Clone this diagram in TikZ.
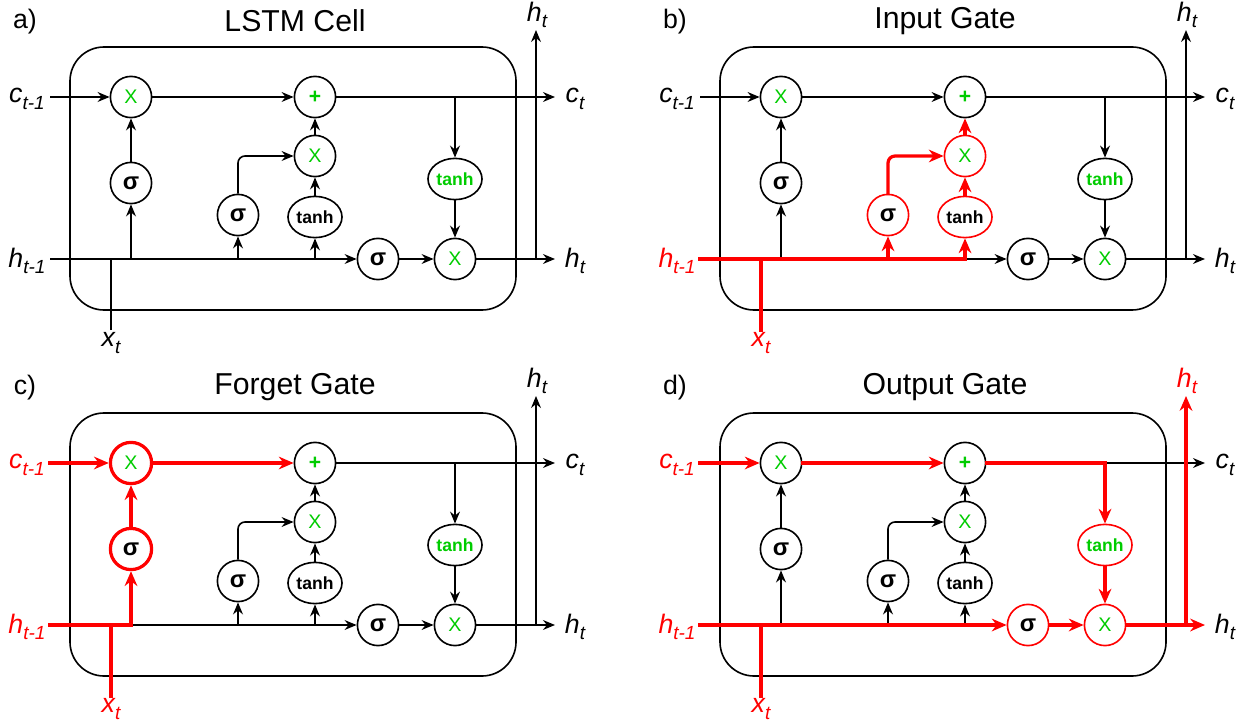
\documentclass[tikz,border=0pt]{standalone}
\usepackage{fontspec}
\setmainfont{Liberation Sans}
\usetikzlibrary{arrows.meta,shapes.geometric}

\definecolor{opgreen}{RGB}{0,204,0}

\newcommand{\lowidx}[1]{\raisebox{-0.45ex}{\fontsize{13.5}{13.5}\selectfont #1}}

\tikzset{
  wire/.style={draw=black,line width=1.15pt,>={Stealth[length=8.5pt,width=7pt]}},
  hot/.style={draw=red,line width=2.3pt,line cap=rect,>={Stealth[length=10.5pt,width=9pt]}},
  op/.style={draw=black,circle,line width=1.15pt,minimum size=1.03cm,inner sep=0pt},
  oval/.style={op,ellipse,minimum width=1.35cm,minimum height=1.03cm},
  mul/.style={text=opgreen,font=\fontsize{14}{14}\selectfont},
  sig/.style={font=\bfseries\fontsize{17}{17}\selectfont},
  th/.style={font=\bfseries\fontsize{12.5}{12.5}\selectfont},
  lab/.style={font=\itshape\fontsize{19}{19}\selectfont,inner sep=0pt},
  hotop/.style={draw=red},
  hotopthick/.style={draw=red,line width=2.3pt},
  % highlight keys, black by default
  cin/.style=wire, ckeep/.style=wire, cout/.style=wire, ctanh/.style=wire,
  hin/.style=wire, hmid/.style=wire, hgate/.style=wire,
  fbr/.style=wire, ibr/.style=wire, obr/.style=wire,
  fnode/.style={}, inode/.style={}, onode/.style={},
  lcin/.style={}, lhin/.style={}, lhup/.style={}
}

\newcommand{\lstmcell}[2]{%
  \node[font=\fontsize{19}{19}\selectfont] (tag) at (25,22) {#1};
  \node[font=\fontsize{21.5}{21.5}\selectfont] (title) at (295,21) {#2};
  \draw[line width=1.15pt,rounded corners=0.85cm] (70,47) rectangle (516,310);
  % gates
  \node[op,mul,fnode] (m1) at (131,97) {X};
  \node[op,sig,fnode] (s1) at (131,183) {σ};
  \node[op,sig,inode] (s2) at (238,215) {σ};
  \node[oval,th,inode] (t1) at (315,217) {tanh};
  \node[op,mul,inode] (m2) at (315,156) {X};
  \node[op,mul,font=\bfseries\fontsize{15}{15}\selectfont] (pl) at (315,97) {+};
  \node[op,sig,onode] (s3) at (378,259) {σ};
  \node[op,mul,onode] (m3) at (455,259) {X};
  \node[oval,th,text=opgreen,onode] (t2) at (455,179) {tanh};
  % end points and junctions
  \coordinate (ci) at (50,97);
  \coordinate (cb) at (455,97);
  \coordinate (co) at (555,97);
  \coordinate (hi) at (50,259);
  \coordinate (xj) at (111,259);
  \coordinate (xt) at (111,330);
  \coordinate (j1) at (131,259);
  \coordinate (j2) at (238,259);
  \coordinate (j3) at (315,259);
  \coordinate (hj) at (536,259);
  \coordinate (hu) at (536,30);
  \coordinate (ho) at (555,259);
  % labels
  \node[lab,lcin] (lci) at (27,99) {c\lowidx{t-1}};
  \node[lab,lhin] (lhi) at (27,261) {h\lowidx{t-1}};
  \node[lab,lhin] (lx) at (111,343) {x\lowidx{t}};
  \node[lab] (lco) at (575,99) {c\lowidx{t}};
  \node[lab] (lho) at (575,261) {h\lowidx{t}};
  \node[lab,lhup] (lhu) at (537,15) {h\lowidx{t}};
  % wires
  \draw[fbr,->] (j1) -- (s1);
  \draw[fbr,->] (s1) -- (m1);
  \draw[ibr,->] (j2) -- (s2);
  \draw[ibr,->] (j3) -- (t1);
  \draw[ibr,->,rounded corners=5pt] (s2) |- (m2);
  \draw[ibr,->] (t1) -- (m2);
  \draw[ibr,->] (m2) -- (pl);
  \draw[hin] (xt) -- (xj);
  \draw[hgate,->] (j3) -- (s3);
  \draw[hmid] (j1) -- (j3);
  \draw[hin] (hi) -- (j1);
  \draw[obr,->] (s3) -- (m3);
  \draw[cin,->] (ci) -- (m1);
  \draw[ckeep,->] (m1) -- (pl);
  \draw[wire,->] (cb) -- (co);
  \draw[cout] (pl) -- (cb);
  \draw[ctanh,->] (cb) -- (t2);
  \draw[ctanh,->] (t2) -- (m3);
  \draw[obr,->] (m3) -- (ho);
  \draw[obr,->] (hj) -- (hu);
}

\begin{document}
\begin{tikzpicture}[x=0.025cm,y=-0.025cm]
\useasboundingbox (0,0) rectangle (1241,721);
\begin{scope}[name prefix=a-]
  \lstmcell{a)}{LSTM Cell}
\end{scope}
\begin{scope}[shift={(650,0)},name prefix=b-,
  hin/.style=hot,hmid/.style=hot,ibr/.style=hot,
  inode/.style=hotop,lhin/.style={text=red}]
  \lstmcell{b)}{Input Gate}
\end{scope}
\begin{scope}[shift={(0,366)},name prefix=c-,
  cin/.style=hot,ckeep/.style=hot,hin/.style=hot,fbr/.style=hot,
  fnode/.style=hotopthick,lcin/.style={text=red},lhin/.style={text=red}]
  \lstmcell{c)}{Forget Gate}
\end{scope}
\begin{scope}[shift={(650,366)},name prefix=d-,
  cin/.style=hot,ckeep/.style=hot,cout/.style=hot,ctanh/.style=hot,
  hin/.style=hot,hmid/.style=hot,hgate/.style=hot,obr/.style=hot,
  onode/.style=hotop,lcin/.style={text=red},lhin/.style={text=red},lhup/.style={text=red}]
  \lstmcell{d)}{Output Gate}
\end{scope}
\end{tikzpicture}
\end{document}
